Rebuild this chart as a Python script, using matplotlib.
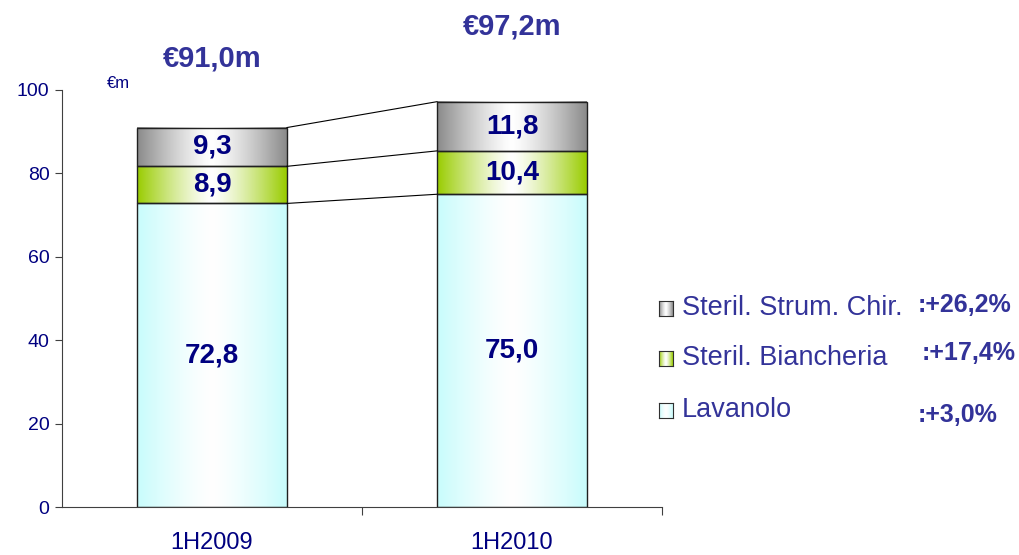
import matplotlib
matplotlib.use('Agg')
import matplotlib.pyplot as plt
import numpy as np
from matplotlib.colors import to_rgb

plt.rcParams['font.family'] = ['Liberation Sans', 'DejaVu Sans']

# data
periods = ['1H2009', '1H2010']
lavanolo = [72.8, 75.0]
biancheria = [8.9, 10.4]
strumentario = [9.3, 11.8]
totals = ['€91,0m', '€97,2m']
series_names = ['Lavanolo', 'Steril. Biancheria', 'Steril. Strum. Chir.']
growth = [':+3,0%', ':+17,4%', ':+26,2%']
edge_colors = ['#c8fcfc', '#99cc00', '#8a8a8a']

navy = '#000080'
blue = '#333399'


def gradient(color, n=256):
    # edge -> white in the middle -> edge
    c = np.array(to_rgb(color))
    t = np.abs(np.linspace(-1, 1, n)) ** 1.3
    rgb = 1 - (1 - c)[None, :] * t[:, None]
    return rgb[None, :, :]


fig = plt.figure(figsize=(10.19, 5.55), dpi=100)
W, H = 1019, 555
ax = fig.add_axes([62 / W, (555 - 507) / H, 600 / W, (507 - 90) / H])

x = np.arange(len(periods))
width = 0.5
stack = [lavanolo, biancheria, strumentario]
bottoms = np.zeros(len(periods))
for vals, col in zip(stack, edge_colors):
    bars = ax.bar(x, vals, width, bottom=bottoms, facecolor='none',
                  edgecolor='#202020', linewidth=1.0, zorder=3)
    for p in bars:
        x0, y0 = p.get_x(), p.get_y()
        ax.imshow(gradient(col), extent=[x0, x0 + p.get_width(), y0, y0 + p.get_height()],
                  aspect='auto', zorder=2, interpolation='bilinear')
    # value labels
    for xi, b, v in zip(x, bottoms, vals):
        ax.text(xi, b + v / 2, f'{v:.1f}'.replace('.', ','), ha='center', va='center',
                fontsize=20, fontweight='bold', color=navy, zorder=4)
    bottoms = bottoms + np.array(vals)

# connector lines between bars
cum = np.cumsum(np.array(stack), axis=0)
for level in cum:
    ax.plot([x[0] + width / 2, x[1] - width / 2], [level[0], level[1]],
            color='black', linewidth=0.8, zorder=3)

# totals above bars
tot_y = [107.5, 115.3]
for xi, t, ty in zip(x, totals, tot_y):
    ax.text(xi, ty, t, ha='center', va='center', fontsize=21, fontweight='bold',
            color=blue, clip_on=False)

ax.set_xlim(-0.5, 1.5)
ax.set_ylim(0, 100)
ax.set_yticks([0, 20, 40, 60, 80, 100])
ax.tick_params(axis='y', direction='out', length=5, colors='#404040',
               labelcolor=navy, labelsize=14, pad=4)
ax.set_xticks([0.5, 1.5])
ax.set_xticklabels([])
ax.set_xticks(x, minor=True)
ax.set_xticklabels(periods, minor=True)
ax.tick_params(axis='x', which='major', direction='out', length=6, colors='#404040')
ax.tick_params(axis='x', which='minor', length=0, labelcolor=navy, labelsize=17, pad=18)
for s in ['top', 'right']:
    ax.spines[s].set_visible(False)
for s in ['left', 'bottom']:
    ax.spines[s].set_color('#404040')
    ax.spines[s].set_linewidth(0.8)

fig.text(107 / W, 1 - 84 / H, '€m', fontsize=12, color=navy, va='center', ha='left')

# legend
leg_y = [410, 358, 308]
pct_x = [918, 922, 918]
pct_y = [415, 353, 305]
for name, g, col, ly, px, py in zip(series_names, growth, edge_colors, leg_y, pct_x, pct_y):
    sq = fig.add_axes([659 / W, 1 - (ly + 8) / H, 14 / W, 15 / H])
    sq.imshow(gradient(col), aspect='auto', interpolation='bilinear')
    sq.set_xticks([])
    sq.set_yticks([])
    for sp in sq.spines.values():
        sp.set_color('#303030')
        sp.set_linewidth(0.8)
    fig.text(682 / W, 1 - ly / H, name, fontsize=19.5, color=blue, va='center', ha='left')
    fig.text(px / W, 1 - py / H, g, fontsize=18, fontweight='bold', color=blue,
             va='center', ha='left')

fig.savefig('out.png', dpi=100)
